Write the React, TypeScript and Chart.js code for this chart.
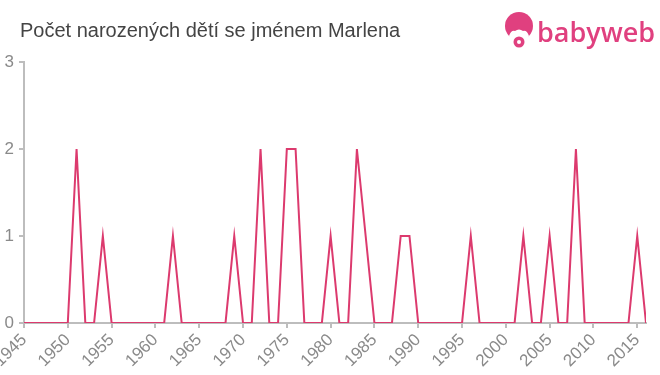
import React, { useEffect, useRef } from "react";
import { Chart, registerables } from "chart.js";

Chart.register(...registerables);

const startYear = 1945;
const endYear = 2016;
const years: number[] = [];
for (let y = startYear; y <= endYear; y++) years.push(y);

const counts: number[] = [
  0, 0, 0, 0, 0, 0, // 1945-1950
  2, 0, 0, 1, // 1951-1954
  0, 0, 0, 0, 0, 0, 0, // 1955-1961
  1, // 1962
  0, 0, 0, 0, 0, 0, // 1963-1968
  1, 0, 0, 2, 0, 0, 2, 2, // 1969-1976
  0, 0, 0, 1, 0, 0, 2, 1, // 1977-1984
  0, 0, 0, 1, 1, // 1985-1989
  0, 0, 0, 0, 0, 0, 1, // 1990-1996
  0, 0, 0, 0, 0, 1, 0, 0, 1, 0, 0, 2, // 1997-2008
  0, 0, 0, 0, 0, 0, 1, 0, // 2009-2016
];

const yTicks = [0, 1, 2, 3];
const titleText = "Počet narozených dětí se jménem Marlena";
const logoText = "babyweb";

const LINE = "#dc3a6e";
const AXIS = "#bdbdbd";
const TICKTEXT = "#8a8a8a";
const PINK = "#e0407f";
const FONT = "'Liberation Sans', Arial, sans-serif";

export default function App() {
  const ref = useRef<HTMLCanvasElement | null>(null);

  useEffect(() => {
    if (!ref.current) return;
    const chart = new Chart(ref.current, {
      type: "line",
      data: {
        datasets: [
          {
            data: years.map((y, i) => ({ x: y, y: counts[i] })),
            borderColor: LINE,
            borderWidth: 2,
            pointRadius: 0,
            tension: 0,
            fill: false,
          },
        ],
      },
      options: {
        animation: false,
        responsive: false,
        maintainAspectRatio: false,
        layout: { padding: { top: 62, right: 14, left: 0, bottom: 0 } },
        plugins: { legend: { display: false }, tooltip: { enabled: false }, title: { display: false } },
        scales: {
          x: {
            type: "linear",
            min: startYear,
            max: endYear,
            grid: { drawOnChartArea: false, drawTicks: true, tickLength: 5, color: AXIS, lineWidth: 2 },
            border: { color: AXIS, width: 2 },
            ticks: {
              stepSize: 5,
              includeBounds: false,
              maxRotation: 45,
              minRotation: 45,
              autoSkip: false,
              padding: 2,
              color: TICKTEXT,
              font: { family: FONT, size: 17 },
              callback: (v: any) => String(v),
            },
            afterFit: (s: any) => {
              s.height = 52;
              s.paddingLeft = 0;
              s.paddingRight = 0;
            },
          },
          y: {
            min: 0,
            max: 3,
            afterBuildTicks: (s: any) => {
              s.ticks = yTicks.map((v) => ({ value: v }));
            },
            grid: { drawOnChartArea: false, drawTicks: true, tickLength: 5, color: AXIS, lineWidth: 2 },
            border: { color: AXIS, width: 2 },
            ticks: {
              padding: 5,
              color: TICKTEXT,
              font: { family: FONT, size: 17 },
              callback: (v: any) => String(v),
            },
            afterFit: (s: any) => {
              s.width = 24;
              s.paddingTop = 0;
              s.paddingBottom = 0;
            },
          },
        },
      },
    });
    return () => chart.destroy();
  }, []);

  return (
    <div style={{ position: "absolute", left: 0, top: 0, width: 660, height: 375, background: "#fff", overflow: "hidden" }}>
      <canvas ref={ref} width={660} height={375} style={{ position: "absolute", left: 0, top: 0, width: 660, height: 375 }} />
      <div
        style={{
          position: "absolute",
          left: 20,
          top: 18,
          fontFamily: FONT,
          fontSize: 20,
          color: "#444",
          whiteSpace: "nowrap",
          lineHeight: "24px",
        }}
      >
        {titleText}
      </div>
      <svg style={{ position: "absolute", left: 503, top: 11 }} width={32} height={40} viewBox="0 0 32 40">
        <circle cx={16} cy={15} r={14} fill={PINK} />
        <path d="M6 25 Q8 19 12 20 Q16 17 20 20 Q24 19 26 25 Q24 31 16 33 Q8 31 6 25 Z" fill="#fff" />
        <circle cx={16} cy={31} r={5.5} fill={PINK} />
        <circle cx={16} cy={31} r={2} fill="#fff" />
      </svg>
      <div
        style={{
          position: "absolute",
          left: 537,
          top: 14,
          fontFamily: "'Open Sans', Arial, sans-serif",
          fontSize: 27,
          fontWeight: 600,
          color: PINK,
          lineHeight: "36px",
          letterSpacing: 0,
          whiteSpace: "nowrap",
        }}
      >
        {logoText}
      </div>
    </div>
  );
}
